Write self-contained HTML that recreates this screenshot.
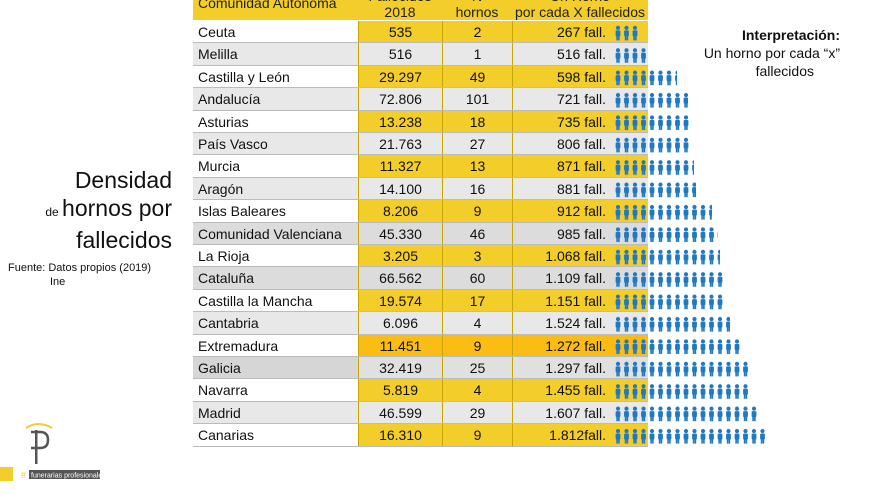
<!DOCTYPE html>
<html><head><meta charset="utf-8"><style>
*{margin:0;padding:0;box-sizing:border-box}
body{width:880px;height:495px;background:#fff;position:relative;overflow:hidden;font-family:"Liberation Sans",Arial,sans-serif;color:#111}
.a{position:absolute}
.r{position:absolute;left:193px;width:455px;height:22.4px;font-size:14px;line-height:23px;border-bottom:1px solid #bbb}
.r div{position:absolute;top:0;height:100%}
.n{left:0;width:165px;padding-left:5px}
.f{left:165px;width:84px;text-align:center;border-left:1px solid #c9a500}
.h{left:249px;width:70px;text-align:center;border-left:1px solid #c9a500}
.x{left:319px;width:136px;text-align:right;padding-right:42px;border-left:1px solid #c9a500}
.hd{position:absolute;top:0;height:20px;background:#f3ce2b;font-size:14px;line-height:16px;text-align:center;color:#222;overflow:hidden}
</style></head><body>
<svg width="0" height="0" style="position:absolute"><defs>
<pattern id="p" x="614" y="0" width="8.5" height="22.4" patternUnits="userSpaceOnUse">
<circle cx="4" cy="5.5" r="2.1" fill="#1f78c1"/><rect x="1.6" y="8" width="4.8" height="6" rx="1" fill="#1f78c1"/><rect x="2.3" y="13" width="1.6" height="5" fill="#1f78c1"/><rect x="4.1" y="13" width="1.6" height="5" fill="#1f78c1"/>
</pattern></defs></svg>

<div class="hd" style="left:193px;width:165px;text-align:left;padding-left:5px"><div style="margin-top:-5px">Comunidad Autónoma</div></div>
<div class="hd" style="left:358px;width:84px"><div style="margin-top:-12px">Fallecidos<br>2018</div></div>
<div class="hd" style="left:442px;width:70px"><div style="margin-top:-12px">N<br>hornos</div></div>
<div class="hd" style="left:512px;width:136px"><div style="margin-top:-12px">Un Horno<br>por cada X fallecidos</div></div>

<div class="r" style="top:21px"><div class="n" style="background:#fff">Ceuta</div><div class="f" style="background:#f3ce2b">535</div><div class="h" style="background:#f3ce2b">2</div><div class="x" style="background:#f3ce2b">267 fall.</div></div>
<div class="r" style="top:43.4px"><div class="n" style="background:#e8e8e8">Melilla</div><div class="f" style="background:#e8e8e8">516</div><div class="h" style="background:#e8e8e8">1</div><div class="x" style="background:#e8e8e8">516 fall.</div></div>
<div class="r" style="top:65.8px"><div class="n" style="background:#fff">Castilla y León</div><div class="f" style="background:#f3ce2b">29.297</div><div class="h" style="background:#f3ce2b">49</div><div class="x" style="background:#f3ce2b">598 fall.</div></div>
<div class="r" style="top:88.2px"><div class="n" style="background:#e8e8e8">Andalucía</div><div class="f" style="background:#e8e8e8">72.806</div><div class="h" style="background:#e8e8e8">101</div><div class="x" style="background:#e8e8e8">721 fall.</div></div>
<div class="r" style="top:110.6px"><div class="n" style="background:#fff">Asturias</div><div class="f" style="background:#f3ce2b">13.238</div><div class="h" style="background:#f3ce2b">18</div><div class="x" style="background:#f3ce2b">735 fall.</div></div>
<div class="r" style="top:133px"><div class="n" style="background:#e8e8e8">País Vasco</div><div class="f" style="background:#e8e8e8">21.763</div><div class="h" style="background:#e8e8e8">27</div><div class="x" style="background:#e8e8e8">806 fall.</div></div>
<div class="r" style="top:155.4px"><div class="n" style="background:#fff">Murcia</div><div class="f" style="background:#f3ce2b">11.327</div><div class="h" style="background:#f3ce2b">13</div><div class="x" style="background:#f3ce2b">871 fall.</div></div>
<div class="r" style="top:177.8px"><div class="n" style="background:#e8e8e8">Aragón</div><div class="f" style="background:#e8e8e8">14.100</div><div class="h" style="background:#e8e8e8">16</div><div class="x" style="background:#e8e8e8">881 fall.</div></div>
<div class="r" style="top:200.2px"><div class="n" style="background:#fff">Islas Baleares</div><div class="f" style="background:#f3ce2b">8.206</div><div class="h" style="background:#f3ce2b">9</div><div class="x" style="background:#f3ce2b">912 fall.</div></div>
<div class="r" style="top:222.6px"><div class="n" style="background:#dcdcdc">Comunidad Valenciana</div><div class="f" style="background:#dcdcdc">45.330</div><div class="h" style="background:#dcdcdc">46</div><div class="x" style="background:#dcdcdc">985 fall.</div></div>
<div class="r" style="top:245px"><div class="n" style="background:#fff">La Rioja</div><div class="f" style="background:#f3ce2b">3.205</div><div class="h" style="background:#f3ce2b">3</div><div class="x" style="background:#f3ce2b">1.068 fall.</div></div>
<div class="r" style="top:267.4px"><div class="n" style="background:#dcdcdc">Cataluña</div><div class="f" style="background:#dcdcdc">66.562</div><div class="h" style="background:#dcdcdc">60</div><div class="x" style="background:#dcdcdc">1.109 fall.</div></div>
<div class="r" style="top:289.8px"><div class="n" style="background:#fff">Castilla la Mancha</div><div class="f" style="background:#f3ce2b">19.574</div><div class="h" style="background:#f3ce2b">17</div><div class="x" style="background:#f3ce2b">1.151 fall.</div></div>
<div class="r" style="top:312.2px"><div class="n" style="background:#e8e8e8">Cantabria</div><div class="f" style="background:#e8e8e8">6.096</div><div class="h" style="background:#e8e8e8">4</div><div class="x" style="background:#e8e8e8">1.524 fall.</div></div>
<div class="r" style="top:334.6px"><div class="n" style="background:#fff">Extremadura</div><div class="f" style="background:#fbbd14">11.451</div><div class="h" style="background:#fbbd14">9</div><div class="x" style="background:#fbbd14">1.272 fall.</div></div>
<div class="r" style="top:357px"><div class="n" style="background:#d6d6d6">Galicia</div><div class="f" style="background:#e0e0e0">32.419</div><div class="h" style="background:#e0e0e0">25</div><div class="x" style="background:#e0e0e0">1.297 fall.</div></div>
<div class="r" style="top:379.4px"><div class="n" style="background:#fff">Navarra</div><div class="f" style="background:#f3ce2b">5.819</div><div class="h" style="background:#f3ce2b">4</div><div class="x" style="background:#f3ce2b">1.455 fall.</div></div>
<div class="r" style="top:401.8px"><div class="n" style="background:#e8e8e8">Madrid</div><div class="f" style="background:#e8e8e8">46.599</div><div class="h" style="background:#e8e8e8">29</div><div class="x" style="background:#e8e8e8">1.607 fall.</div></div>
<div class="r" style="top:424.2px"><div class="n" style="background:#fff">Canarias</div><div class="f" style="background:#f3ce2b">16.310</div><div class="h" style="background:#f3ce2b">9</div><div class="x" style="background:#f3ce2b">1.812fall.</div></div>

<svg class="a" style="left:0;top:0" width="880" height="495">
<g fill="url(#p)">
<rect x="614" y="21" width="24" height="22.4"/>
<rect x="614" y="43.4" width="34" height="22.4"/>
<rect x="614" y="65.8" width="63" height="22.4"/>
<rect x="614" y="88.2" width="74" height="22.4"/>
<rect x="614" y="110.6" width="76" height="22.4"/>
<rect x="614" y="133" width="78" height="22.4"/>
<rect x="614" y="155.4" width="80" height="22.4"/>
<rect x="614" y="177.8" width="82" height="22.4"/>
<rect x="614" y="200.2" width="98" height="22.4"/>
<rect x="614" y="222.6" width="104" height="22.4"/>
<rect x="614" y="245" width="106" height="22.4"/>
<rect x="614" y="267.4" width="109" height="22.4"/>
<rect x="614" y="289.8" width="112" height="22.4"/>
<rect x="614" y="312.2" width="116" height="22.4"/>
<rect x="614" y="334.6" width="129" height="22.4"/>
<rect x="614" y="357" width="136" height="22.4"/>
<rect x="614" y="379.4" width="136" height="22.4"/>
<rect x="614" y="401.8" width="143" height="22.4"/>
<rect x="614" y="424.2" width="152" height="22.4"/>
</g></svg>

<div class="a" style="left:640px;top:26px;width:200px;text-align:right;font-size:14px;line-height:18px"><b>Interpretación:</b><br>Un horno por cada “x”<br><span style="padding-right:26px">fallecidos</span></div>

<div class="a" style="left:0;top:166px;width:172px;text-align:right;font-size:23px;line-height:28px">Densidad<br><span style="font-size:12px">de </span>hornos por<br>fallecidos</div>
<div class="a" style="left:8px;top:261px;font-size:11px;line-height:14px">Fuente: Datos propios (2019)<br><span style="padding-left:42px">Ine</span></div>

<svg class="a" style="left:0;top:420px" width="140" height="75">
<path d="M26 8 Q38 0 52 8" stroke="#f3ce2b" stroke-width="2" fill="none"/>
<rect x="35" y="10" width="2.5" height="34" fill="#555"/>
<path d="M31 12 H40 Q48 12 48 20 Q48 28 40 28 H31" stroke="#555" stroke-width="2.5" fill="none"/>
<rect x="0" y="47" width="13" height="14" fill="#f3ce2b"/>
<text x="21" y="58" fill="#f3ce2b" font-size="9" font-family="Liberation Sans">#</text>
<rect x="29" y="50" width="71" height="9" fill="#555"/>
<text x="31" y="57.5" fill="#fff" font-size="7" font-family="Liberation Sans">funerarias profesionales</text>
</svg>
</body></html>
